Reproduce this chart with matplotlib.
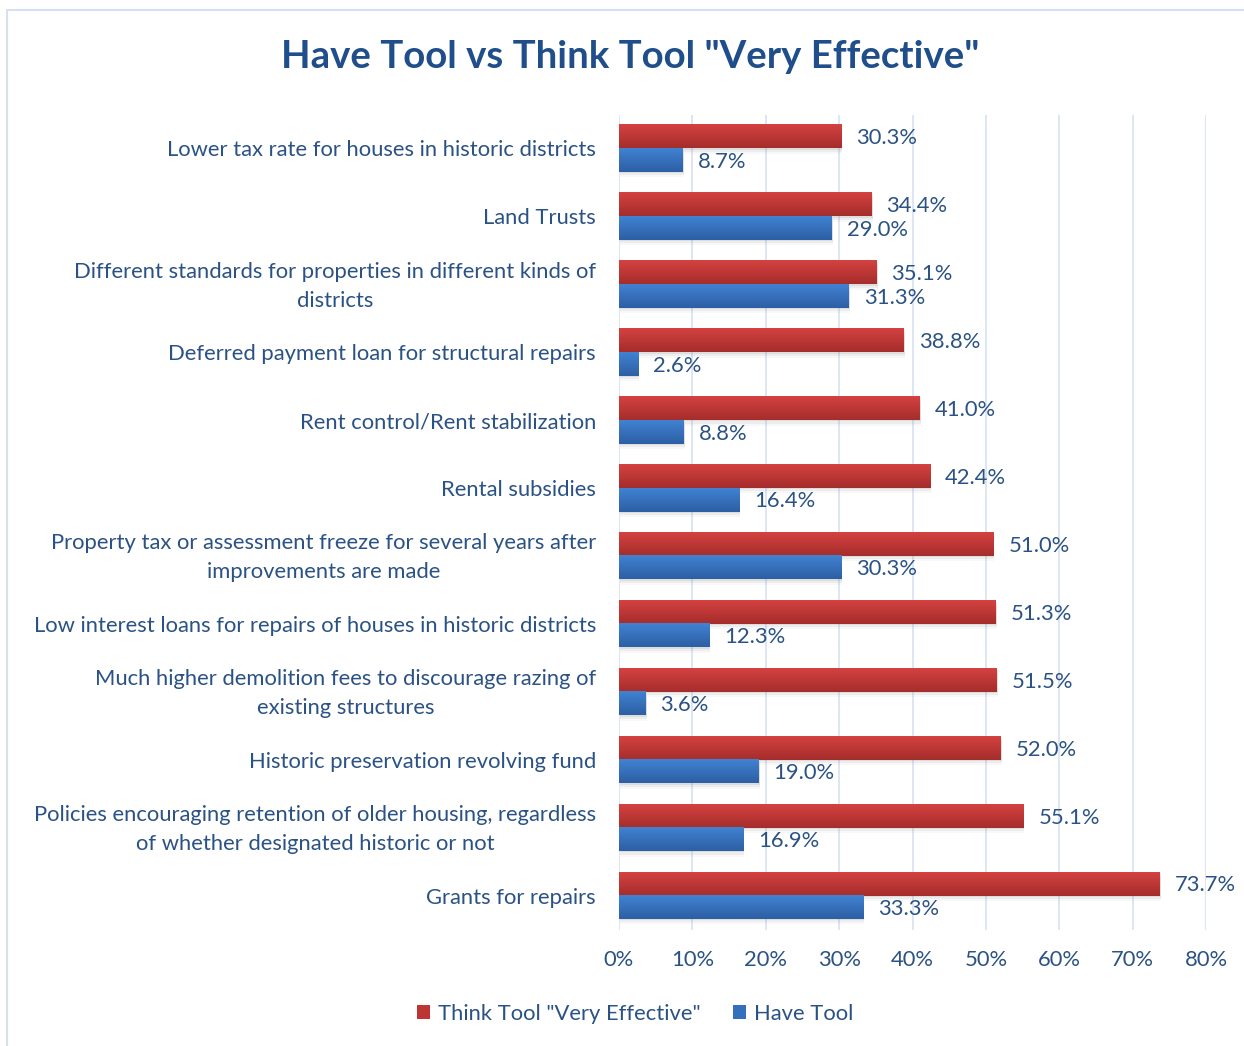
import matplotlib.pyplot as plt
import matplotlib.transforms as mtransforms
import numpy as np
from matplotlib.patches import Patch, Rectangle
from matplotlib.colors import LinearSegmentedColormap

plt.rcParams['font.family'] = ['Lato', 'DejaVu Sans']

tools = [
    "Lower tax rate for houses in historic districts",
    "Land Trusts",
    "Different standards for properties in different kinds of\ndistricts",
    "Deferred payment loan for structural repairs",
    "Rent control/Rent stabilization",
    "Rental subsidies",
    "Property tax or assessment freeze for several years after\nimprovements are made",
    "Low interest loans for repairs of houses in historic districts",
    "Much higher demolition fees to discourage razing of\nexisting structures",
    "Historic preservation revolving fund",
    "Policies encouraging retention of older housing, regardless\nof whether designated historic or not",
    "Grants for repairs",
]
think_effective = [30.3, 34.4, 35.1, 38.8, 41.0, 42.4, 51.0, 51.3, 51.5, 52.0, 55.1, 73.7]
have_tool = [8.7, 29.0, 31.3, 2.6, 8.8, 16.4, 30.3, 12.3, 3.6, 19.0, 16.9, 33.3]

txt = '#2b5284'
red_top, red_bot = '#d44241', '#a52d2b'
blue_top, blue_bot = '#4182d2', '#2d5fa4'
fs = 15.8

fig = plt.figure(figsize=(12.44, 10.46), dpi=100)
# chart frame: only the left and top edges fall inside the image
fig.patches.append(Rectangle((7/1244, -0.1), 1.1, 1.1 - 10/1046, transform=fig.transFigure,
                             fill=False, edgecolor='#d6e0ee', lw=1.5))
ax = fig.add_axes([619/1244, 1 - 929.5/1046, 587/1244, 815/1046])

h = 0.346
grad = np.linspace(0, 1, 64).reshape(-1, 1)


def gbar(x, y0, y1, c_top, c_bot):
    # faint drop shadow, then a vertical gradient fill
    for k, a in enumerate([0.10, 0.07, 0.04]):
        d = 0.02 + 0.03 * k
        ax.add_patch(Rectangle((0.15, y0 + d), x, y1 - y0, color='#606060', alpha=a,
                               lw=0, zorder=2))
    cmap = LinearSegmentedColormap.from_list('g', [c_top, c_bot])
    ax.imshow(grad, cmap=cmap, aspect='auto', extent=[0, x, y1, y0], zorder=3,
              interpolation='bicubic')


y = np.arange(len(tools))
for i in y:
    gbar(think_effective[i], i - h, i, red_top, red_bot)
    gbar(have_tool[i], i, i + h, blue_top, blue_bot)
    ax.annotate(f"{think_effective[i]:.1f}%", (think_effective[i], i - h / 2),
                xytext=(10.8, -1.2), textcoords='offset points', va='center', ha='left',
                fontsize=fs, color=txt)
    ax.annotate(f"{have_tool[i]:.1f}%", (have_tool[i], i + h / 2),
                xytext=(10.8, -1.2), textcoords='offset points', va='center', ha='left',
                fontsize=fs, color=txt)

ax.set_xlim(0, 80)
ax.set_ylim(len(tools) - 0.5, -0.5)
ax.set_xticks(range(0, 81, 10))
ax.set_xticklabels([f"{v}%" for v in range(0, 81, 10)])
ax.set_yticks(y)
ax.set_yticklabels(tools, multialignment='center', linespacing=1.55)
ax.tick_params(axis='both', length=0, labelsize=fs, labelcolor=txt)
ax.tick_params(axis='x', pad=15)
ax.tick_params(axis='y', pad=16.5)

# two-line labels sit a little high
lift = mtransforms.ScaledTranslation(0, 4.5 / 100, fig.dpi_scale_trans)
for lab in ax.get_yticklabels():
    if '\n' in lab.get_text():
        lab.set_transform(lab.get_transform() + lift)

ax.grid(axis='x', color='#d5e2f2', lw=1.2, zorder=0)
ax.set_axisbelow(True)
for s in ax.spines.values():
    s.set_visible(False)

fig.text(630/1244, 1 - 57/1046, 'Have Tool vs Think Tool "Very Effective"', ha='center',
         va='center', fontsize=27.6, fontweight='bold', color='#1f4e8a')

handles = [Patch(facecolor='#bd3634', label='Think Tool "Very Effective"'),
           Patch(facecolor='#3570bc', label='Have Tool')]
fig.legend(handles=handles, loc='center', bbox_to_anchor=(635/1244, 1 - 1014/1046), ncol=2,
           frameon=False, fontsize=fs, labelcolor=txt, handlelength=0.6, handleheight=0.6,
           handletextpad=0.35, columnspacing=1.5)

fig.savefig('out.png', dpi=100)
